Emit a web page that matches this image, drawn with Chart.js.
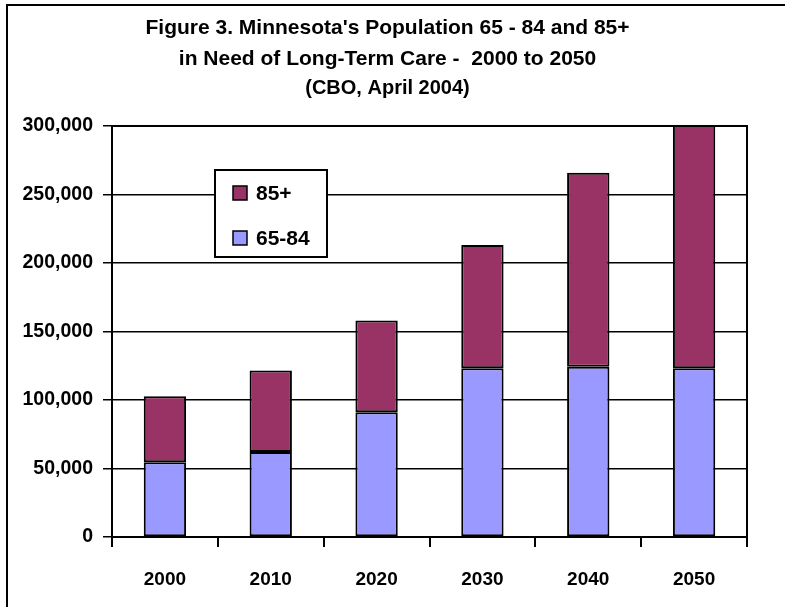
<!DOCTYPE html>
<html>
<head>
<meta charset="utf-8">
<script src="https://cdn.jsdelivr.net/npm/chart.js@4.4.1/dist/chart.umd.min.js"></script>
<style>
    html, body { margin: 0; padding: 0; background: #fff; }
    #wrap { width: 785px; height: 607px; position: relative; }
</style>
</head>
<body>
<div id="wrap"><canvas id="ltcChart"></canvas></div>
<script>
// Data
const years = ['2000', '2010', '2020', '2030', '2040', '2050'];
const age65to84 = [54600, 62100, 91000, 123100, 124300, 123100];
const age85plus = [48100, 59500, 67000, 90000, 141500, 177600];
const titleLines = ["Figure 3. Minnesota's Population 65 - 84 and 85+", 'in Need of Long-Term Care -  2000 to 2050'];
const subtitleText = '(CBO, April 2004)';

const FONT = "'Liberation Sans', Arial, sans-serif";

// frame round the plot + outer page border
const framePlugin = {
    id: 'frame',
    afterLayout(chart) {
        // title blocks in the original are centred on the page, not on the padded area
        chart.boxes.forEach(b => {
            if (b.position === 'top' && b.options && b.options.text !== undefined) {
                b.left += 28;
            }
        });
    },
    beforeDraw(chart) {
        const ctx = chart.ctx;
        ctx.save();
        ctx.fillStyle = '#fff';
        ctx.fillRect(0, 0, chart.width, chart.height);
        ctx.strokeStyle = '#000';
        ctx.lineWidth = 2;
        ctx.beginPath();
        ctx.moveTo(7, chart.height);
        ctx.lineTo(7, 5);
        ctx.lineTo(chart.width, 5);
        ctx.stroke();
        ctx.restore();
    },
    afterDatasetsDraw(chart) {
        const a = chart.chartArea;
        const ctx = chart.ctx;
        ctx.save();
        ctx.strokeStyle = '#000';
        ctx.lineWidth = 2;
        ctx.strokeRect(a.left, a.top, a.right - a.left, a.bottom - a.top);
        ctx.restore();
    }
};

// legend box sitting inside the plot, like the original
const boxLegend = {
    id: 'boxLegend',
    afterDraw(chart) {
        const ctx = chart.ctx;
        const x = 215, y = 170, w = 112, h = 87;
        ctx.save();
        ctx.fillStyle = '#fff';
        ctx.fillRect(x, y, w, h);
        ctx.strokeStyle = '#000';
        ctx.lineWidth = 2;
        ctx.strokeRect(x, y, w, h);
        const items = chart.data.datasets.slice().reverse();
        ctx.font = 'bold 21px ' + FONT;
        ctx.textBaseline = 'middle';
        items.forEach((ds, i) => {
            const cy = y + 23 + i * 45;
            ctx.fillStyle = ds.backgroundColor;
            ctx.fillRect(x + 18, cy - 7, 14, 14);
            ctx.lineWidth = 1.5;
            ctx.strokeRect(x + 18, cy - 7, 14, 14);
            ctx.fillStyle = '#000';
            ctx.fillText(ds.label, x + 41, cy + 1);
        });
        ctx.restore();
    }
};

const ctx = document.getElementById('ltcChart');
new Chart(ctx, {
    type: 'bar',
    data: {
        labels: years,
        datasets: [
            {
                label: '65-84',
                data: age65to84,
                backgroundColor: '#9999FF',
                borderColor: '#000',
                borderWidth: 2,
                borderSkipped: false,
                barPercentage: 0.4,
                categoryPercentage: 1.0,
            },
            {
                label: '85+',
                data: age85plus,
                backgroundColor: '#993366',
                borderColor: '#000',
                borderWidth: 2,
                borderSkipped: false,
                barPercentage: 0.4,
                categoryPercentage: 1.0,
            }
        ]
    },
    options: {
        responsive: true,
        maintainAspectRatio: false,
        animation: false,
        layout: { padding: { left: 0, right: 38, top: 0, bottom: 0 } },
        plugins: {
            legend: { display: false },
            tooltip: { enabled: false },
            title: {
                display: true,
                text: titleLines,
                color: '#000',
                font: { family: FONT, size: 21, weight: 'bold', lineHeight: 1.476 },
                padding: { top: 13, bottom: 0 },
            },
            subtitle: {
                display: true,
                text: subtitleText,
                color: '#000',
                font: { family: FONT, size: 20, weight: 'bold', lineHeight: 1.2 },
                padding: { top: 1, bottom: 26 },
            }
        },
        scales: {
            x: {
                stacked: true,
                grid: {
                    display: true,
                    drawOnChartArea: false,
                    drawTicks: true,
                    tickLength: 10,
                    color: '#000',
                    lineWidth: 2,
                },
                border: { color: '#000', width: 2 },
                ticks: {
                    color: '#000',
                    padding: 21,
                    font: { family: FONT, size: 19, weight: 'bold' },
                },
                afterFit(scale) { scale.height = 70; }
            },
            y: {
                stacked: true,
                min: 0,
                max: 300000,
                grid: {
                    color: '#000',
                    lineWidth: 1.5,
                    tickLength: 9,
                },
                border: { color: '#000', width: 2 },
                ticks: {
                    stepSize: 50000,
                    color: '#000',
                    padding: 10,
                    font: { family: FONT, size: 19.5, weight: 'bold' },
                    callback: v => v.toLocaleString('en-US'),
                },
                afterFit(scale) { scale.width = 112; }
            }
        }
    },
    plugins: [framePlugin, boxLegend]
});
</script>
</body>
</html>
